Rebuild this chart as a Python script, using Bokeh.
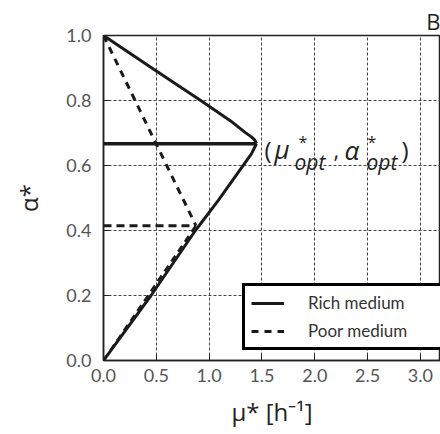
from bokeh.plotting import figure
from bokeh.models import Range1d, Legend, LegendItem, Label, FixedTicker, NumeralTickFormatter
from bokeh.embed import file_html
from bokeh.resources import INLINE

# ---- data ----
rich_upper_mu = [0.0, 0.5, 0.92, 1.2, 1.34, 1.40, 1.432, 1.448]
rich_upper_alpha = [1.0, 0.891, 0.80, 0.738, 0.702, 0.688, 0.678, 0.667]
rich_lower_mu = [0.0, 0.45, 0.87, 1.085, 1.40, 1.448]
rich_lower_alpha = [0.0, 0.2, 0.40, 0.492, 0.636, 0.667]
rich_opt_mu = 1.448
rich_opt_alpha = 0.667

poor_upper_mu = [0.0, 0.875]
poor_upper_alpha = [1.0, 0.415]
poor_lower_mu = [0.0, 0.875]
poor_lower_alpha = [0.0, 0.415]
poor_opt_mu = 0.875
poor_opt_alpha = 0.415

x_ticks = [0.0, 0.5, 1.0, 1.5, 2.0, 2.5, 3.0]
y_ticks = [0.0, 0.2, 0.4, 0.6, 0.8, 1.0]
legend_labels = ["Rich medium", "Poor medium"]
panel_letter = "B"

X_MAX = 3.19
FRAME_L, FRAME_T, FRAME_W, FRAME_H = 103, 35, 337, 325

p = figure(width=440, height=434, output_backend="svg", toolbar_location=None,
           x_range=Range1d(0, X_MAX), y_range=Range1d(0, 1.0),
           min_border_left=FRAME_L, min_border_right=0,
           min_border_top=FRAME_T, min_border_bottom=434 - FRAME_T - FRAME_H)
p.background_fill_color = "white"
p.border_fill_color = "white"
p.outline_line_color = "#222222"
p.outline_line_width = 1.5

# panel letter as title, right aligned
p.title.text = panel_letter
p.title.align = "right"
p.title.text_font = "Open Sans"
p.title.text_font_style = "normal"
p.title.text_font_size = "22px"
p.title.text_line_height = 1.0
p.title.text_color = "#222222"
p.title.standoff = 0
p.title.offset = 0

TICK_FONT = "Lato"
for ax in (p.xaxis[0], p.yaxis[0]):
    ax.major_label_text_font = TICK_FONT
    ax.major_label_text_font_size = "18px"
    ax.major_label_text_color = "#555555"
    ax.axis_line_color = "#222222"
    ax.axis_line_width = 1.5
    ax.major_tick_in = 6
    ax.major_tick_out = 0
    ax.major_tick_line_color = "#222222"
    ax.minor_tick_line_color = None
    ax.formatter = NumeralTickFormatter(format="0.0")
    ax.axis_label_text_font = "Open Sans"
    ax.axis_label_text_font_style = "normal"
    ax.axis_label_text_color = "#222222"
    ax.axis_label_text_font_size = "24px"

p.xaxis.ticker = FixedTicker(ticks=x_ticks)
p.yaxis.ticker = FixedTicker(ticks=y_ticks)
p.xaxis.major_label_standoff = 8
p.yaxis.major_label_standoff = 12
p.xaxis.axis_label = "μ* [h⁻¹]"
p.yaxis.axis_label = "α*"
p.xaxis.axis_label_standoff = 10
p.yaxis.axis_label_standoff = 18

for g in (p.xgrid[0], p.ygrid[0]):
    g.grid_line_color = "#444444"
    g.grid_line_dash = "3 2"
    g.grid_line_width = 1
p.xgrid.ticker = FixedTicker(ticks=x_ticks)
p.ygrid.ticker = FixedTicker(ticks=y_ticks)

LINE_C = "#1a1a1a"
# poor medium (dashed)
p.line(poor_lower_mu, poor_lower_alpha, line_color=LINE_C, line_width=2.5, line_dash="7 5")
r_poor = p.line(poor_upper_mu, poor_upper_alpha, line_color=LINE_C, line_width=3, line_dash="7 6")
p.line([0.0, poor_opt_mu], [poor_opt_alpha, poor_opt_alpha], line_color=LINE_C, line_width=3, line_dash="8 5")
# rich medium (solid)
r_rich = p.line(rich_upper_mu, rich_upper_alpha, line_color=LINE_C, line_width=3)
p.line(rich_lower_mu, rich_lower_alpha, line_color=LINE_C, line_width=3)
p.line([0.0, rich_opt_mu], [rich_opt_alpha, rich_opt_alpha], line_color=LINE_C, line_width=3.5)

legend = Legend(items=[LegendItem(label=legend_labels[0], renderers=[r_rich]),
                       LegendItem(label=legend_labels[1], renderers=[r_poor])],
                location=(139, 10))
legend.border_line_color = "#000000"
legend.border_line_alpha = 1.0
legend.border_line_width = 3.5
legend.background_fill_color = "white"
legend.background_fill_alpha = 1
legend.label_text_font = TICK_FONT
legend.label_text_font_size = "17px"
legend.label_text_color = "#333333"
legend.glyph_width = 33
legend.glyph_height = 20
legend.label_height = 20
legend.label_width = 200
legend.label_standoff = 24
legend.spacing = 7
legend.padding = 6
legend.margin = 0
p.add_layout(legend, "center")

# annotation (mu*_opt, alpha*_opt)
sx = FRAME_W / X_MAX
sy = FRAME_H / 1.0
def dx(px):
    return (px - FRAME_L) / sx
def dy(py):
    return (FRAME_T + FRAME_H - py) / sy

pieces = [
    ("(", 264, 149, "24px", "normal"),
    ("μ", 274, 148, "26px", "italic"),
    ("*", 298, 141, "16px", "normal"),
    ("opt", 294, 161, "21px", "italic"),
    (",", 333, 149, "22px", "normal"),
    ("α", 344, 149, "26px", "italic"),
    ("*", 367, 141, "16px", "normal"),
    ("opt", 366, 161, "21px", "italic"),
    (")", 401, 149, "24px", "normal"),
]
for t, px, py, fs, st in pieces:
    p.add_layout(Label(x=dx(px), y=dy(py), text=t, text_font="Open Sans",
                       text_font_size=fs, text_font_style=st, text_color="#222222",
                       text_baseline="alphabetic", text_align="left"))

open("out.html", "w").write(file_html(p, INLINE))
